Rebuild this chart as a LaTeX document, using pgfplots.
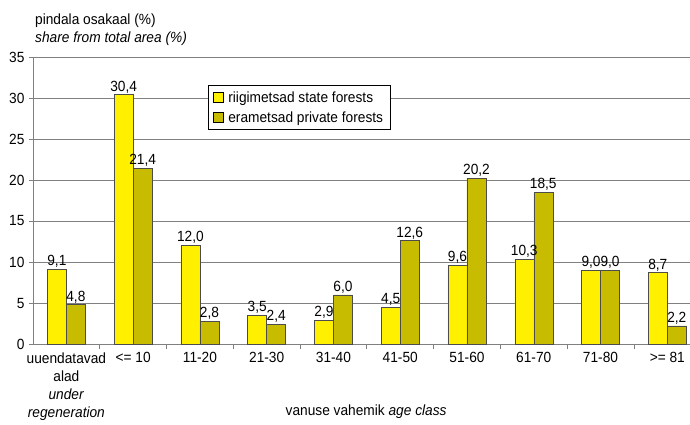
\documentclass[border=0pt]{standalone}
\usepackage{pgfplots}
\pgfplotsset{compat=1.18}
\usepackage{fontspec}
\setmainfont{Liberation Sans}[FakeStretch=0.93]
\definecolor{yel}{HTML}{FFF000}
\definecolor{oli}{HTML}{C8BC00}
\definecolor{gridg}{HTML}{808080}
\newcommand{\fs}{\fontsize{14.8}{18}\selectfont}
\begin{document}
\begin{tikzpicture}
\useasboundingbox (0,0) rectangle (690bp,425bp);
\begin{axis}[
  at={(33bp,81bp)}, anchor=south west,
  scale only axis, width=657bp, height=287bp,
  xmin=-0.5, xmax=9.34, ymin=0, ymax=35,
  ytick={0,5,...,35},
  axis x line*=bottom, axis y line*=left,
  axis line style={gridg, line width=0.8pt},
  ymajorgrids, major grid style={gridg, line width=0.8pt},
  tick style={gridg, line width=0.8pt},
  tick align=outside, major tick length=4bp,
  xtick={0,...,9}, major x tick style={draw=none},
  minor xtick={0.5,1.5,...,8.5}, minor tick length=5bp,
  xticklabels={{uuendatavad\\alad\\\textit{under}\\\textit{regeneration}},{<= 10},11-20,21-30,31-40,41-50,51-60,61-70,71-80,{>= 81}},
  xticklabel style={align=center, font=\fs, yshift=-1bp},
  yticklabel style={font=\fs, xshift=-1bp},
  /pgf/number format/assume math mode=true,
  ybar, bar width=19bp, 
  nodes near coords,
  every node near coord/.append style={font=\fs, black, inner sep=1.5bp,
     /pgf/number format/.cd, fixed, fixed zerofill, precision=1, use comma},
  legend style={at={(0.266,0.902)}, anchor=north west, draw=black, fill=white,
     font=\fs, row sep=4bp, column sep=3bp, inner xsep=5bp, inner ysep=4bp},
  legend cell align=left,
  legend image code/.code={\draw[#1, draw=black, line width=0.4pt] (0bp,-5bp) rectangle (10bp,5bp);},
  clip=false,
]
\addplot[fill=yel, draw=black!70, line width=0.5pt, bar shift=-9.5bp] coordinates {
(0,9.1) (1,30.4) (2,12.0) (3,3.5) (4,2.9) (5,4.5) (6,9.6) (7,10.3) (8,9.0) (9,8.7)};
\addplot[fill=oli, draw=black!70, line width=0.5pt, bar shift=9.5bp] coordinates {
(0,4.8) (1,21.4) (2,2.8) (3,2.4) (4,6.0) (5,12.6) (6,20.2) (7,18.5) (8,9.0) (9,2.2)};
\legend{riigimetsad state forests\hspace{6bp}, erametsad private forests\hspace{6bp}}
\node[anchor=west, font=\fs, inner sep=0pt] at ([xshift=2bp,yshift=36bp]rel axis cs:0,1) {pindala osakaal (\%)};
\node[anchor=west, font=\fs\itshape, inner sep=0pt] at ([xshift=2bp,yshift=18bp]rel axis cs:0,1) {share from total area (\%)};
\node[font=\fs, inner sep=0pt] at ([yshift=-68bp]rel axis cs:0.507,0) {vanuse vahemik \textit{age class}};
\end{axis}
\end{tikzpicture}
\end{document}
